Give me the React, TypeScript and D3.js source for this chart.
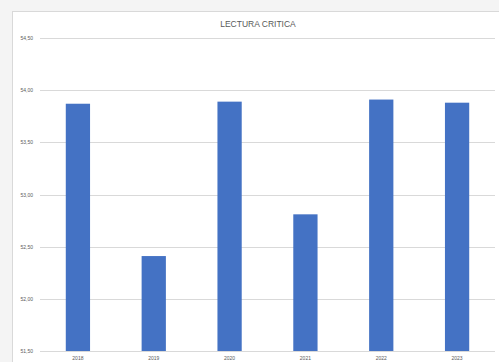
import React, { useEffect, useRef } from 'react';
import * as d3 from 'd3';

const years = ['2018', '2019', '2020', '2021', '2022', '2023'];
const values = [53.87, 52.41, 53.89, 52.81, 53.91, 53.88];
const yTicks = [51.5, 52.0, 52.5, 53.0, 53.5, 54.0, 54.5];

const W = 499;
const H = 362;

export default function App() {
    const ref = useRef<SVGSVGElement>(null);

    useEffect(() => {
        const svg = d3.select(ref.current);
        svg.selectAll('*').remove();

        const margin = { top: 38, right: 4, bottom: 11, left: 40 };
        const x = d3.scaleBand<string>()
            .domain(years)
            .range([margin.left, W - margin.right])
            .paddingInner(0.68)
            .paddingOuter(0.34);
        const y = d3.scaleLinear()
            .domain([51.5, 54.5])
            .range([H - margin.bottom, margin.top]);

        // outer background and chart frame
        svg.append('rect').attr('width', W).attr('height', H).attr('fill', '#f4f4f4');
        svg.append('rect')
            .attr('x', 12.5).attr('y', 11.5)
            .attr('width', W).attr('height', H)
            .attr('fill', '#ffffff')
            .attr('stroke', '#d9d9d9');

        // title
        svg.append('text')
            .attr('x', 258).attr('y', 27)
            .attr('text-anchor', 'middle')
            .attr('font-family', 'Liberation Sans, Arial, sans-serif')
            .attr('font-size', 8.5)
            .attr('fill', '#595959')
            .text('LECTURA CRITICA');

        // gridlines
        svg.selectAll('.grid')
            .data(yTicks)
            .enter().append('line')
            .attr('x1', margin.left).attr('x2', W - margin.right)
            .attr('y1', d => Math.round(y(d)) + 0.5)
            .attr('y2', d => Math.round(y(d)) + 0.5)
            .attr('stroke', '#d9d9d9');

        // y labels
        svg.selectAll('.ylab')
            .data(yTicks)
            .enter().append('text')
            .attr('x', 33).attr('y', d => y(d) + 2)
            .attr('text-anchor', 'end')
            .attr('font-family', 'Liberation Sans, Arial, sans-serif')
            .attr('font-size', 5)
            .attr('fill', '#595959')
            .text(d => d3.format('.2f')(d).replace('.', ','));

        // bars
        svg.selectAll('.bar')
            .data(values)
            .enter().append('rect')
            .attr('x', (d, i) => x(years[i]) as number)
            .attr('y', d => y(d))
            .attr('width', x.bandwidth())
            .attr('height', d => y(51.5) - y(d))
            .attr('fill', '#4472c4');

        // x labels
        svg.selectAll('.xlab')
            .data(years)
            .enter().append('text')
            .attr('x', d => (x(d) as number) + x.bandwidth() / 2)
            .attr('y', 360)
            .attr('text-anchor', 'middle')
            .attr('font-family', 'Liberation Sans, Arial, sans-serif')
            .attr('font-size', 5)
            .attr('fill', '#595959')
            .text(d => d);
    }, []);

    return (
        <div style={{ position: 'fixed', top: 0, left: 0 }}>
            <svg ref={ref} width={W} height={H} style={{ display: 'block' }} />
        </div>
    );
}
